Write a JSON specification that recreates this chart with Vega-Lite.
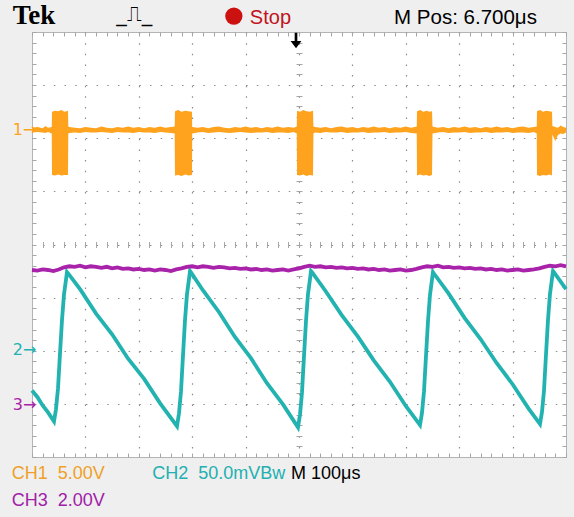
{
  "$schema": "https://vega.github.io/schema/vega-lite/v6.json",
  "width": 534,
  "height": 425,
  "autosize": {"type": "none"},
  "padding": {"left": 32, "top": 32, "right": 8, "bottom": 60},
  "background": "#efefef",
  "config": {
    "view": {"fill": "white", "stroke": "#b4b4b4", "strokeWidth": 1},
    "axis": {"labels": false, "domain": false, "title": null, "tickColor": "#a6a6a6", "tickWidth": 1}
  },
  "datasets": {
    "ch1": [
      {"t": 0, "hi": 2.2, "lo": 2.11}, {"t": 0.1, "hi": 2.21, "lo": 2.12}, {"t": 0.2, "hi": 2.19, "lo": 2.11}, {"t": 0.25, "hi": 2.23, "lo": 2.1}, {"t": 0.3, "hi": 2.2, "lo": 2.12}, {"t": 0.37, "hi": 2.21, "lo": 2.09},
      {"t": 0.375, "hi": 2.5, "lo": 1.31}, {"t": 0.43, "hi": 2.52, "lo": 1.3}, {"t": 0.49, "hi": 2.51, "lo": 1.32}, {"t": 0.55, "hi": 2.53, "lo": 1.3}, {"t": 0.61, "hi": 2.5, "lo": 1.31}, {"t": 0.674, "hi": 2.52, "lo": 1.31},
      {"t": 0.68, "hi": 2.22, "lo": 2.09}, {"t": 0.7, "hi": 2.21, "lo": 2.1}, {"t": 0.8, "hi": 2.2, "lo": 2.11}, {"t": 0.9, "hi": 2.19, "lo": 2.1}, {"t": 1.0, "hi": 2.21, "lo": 2.12}, {"t": 1.1, "hi": 2.2, "lo": 2.11}, {"t": 1.2, "hi": 2.19, "lo": 2.11}, {"t": 1.3, "hi": 2.22, "lo": 2.12}, {"t": 1.4, "hi": 2.2, "lo": 2.11}, {"t": 1.5, "hi": 2.19, "lo": 2.1}, {"t": 1.6, "hi": 2.21, "lo": 2.12}, {"t": 1.7, "hi": 2.2, "lo": 2.11}, {"t": 1.8, "hi": 2.22, "lo": 2.11}, {"t": 1.9, "hi": 2.2, "lo": 2.1}, {"t": 2.0, "hi": 2.21, "lo": 2.12}, {"t": 2.1, "hi": 2.19, "lo": 2.11}, {"t": 2.2, "hi": 2.21, "lo": 2.11}, {"t": 2.3, "hi": 2.2, "lo": 2.1}, {"t": 2.4, "hi": 2.22, "lo": 2.12}, {"t": 2.5, "hi": 2.2, "lo": 2.11}, {"t": 2.6, "hi": 2.21, "lo": 2.1}, {"t": 2.672, "hi": 2.22, "lo": 2.09},
      {"t": 2.678, "hi": 2.51, "lo": 1.3}, {"t": 2.74, "hi": 2.53, "lo": 1.31}, {"t": 2.8, "hi": 2.5, "lo": 1.29}, {"t": 2.87, "hi": 2.52, "lo": 1.32}, {"t": 2.93, "hi": 2.51, "lo": 1.3}, {"t": 2.996, "hi": 2.5, "lo": 1.31},
      {"t": 3.0, "hi": 2.21, "lo": 2.09}, {"t": 3.1, "hi": 2.2, "lo": 2.11}, {"t": 3.2, "hi": 2.21, "lo": 2.12}, {"t": 3.3, "hi": 2.19, "lo": 2.1}, {"t": 3.4, "hi": 2.21, "lo": 2.11}, {"t": 3.5, "hi": 2.22, "lo": 2.12}, {"t": 3.6, "hi": 2.2, "lo": 2.11}, {"t": 3.7, "hi": 2.19, "lo": 2.1}, {"t": 3.8, "hi": 2.21, "lo": 2.11}, {"t": 3.9, "hi": 2.2, "lo": 2.12}, {"t": 4.0, "hi": 2.22, "lo": 2.11}, {"t": 4.1, "hi": 2.2, "lo": 2.1}, {"t": 4.2, "hi": 2.21, "lo": 2.11}, {"t": 4.3, "hi": 2.19, "lo": 2.11}, {"t": 4.4, "hi": 2.21, "lo": 2.12}, {"t": 4.5, "hi": 2.2, "lo": 2.1}, {"t": 4.6, "hi": 2.22, "lo": 2.11}, {"t": 4.7, "hi": 2.2, "lo": 2.11}, {"t": 4.8, "hi": 2.21, "lo": 2.1}, {"t": 4.9, "hi": 2.2, "lo": 2.12}, {"t": 4.958, "hi": 2.22, "lo": 2.09},
      {"t": 4.963, "hi": 2.52, "lo": 1.31}, {"t": 5.02, "hi": 2.5, "lo": 1.3}, {"t": 5.08, "hi": 2.53, "lo": 1.32}, {"t": 5.14, "hi": 2.51, "lo": 1.29}, {"t": 5.2, "hi": 2.5, "lo": 1.31}, {"t": 5.262, "hi": 2.52, "lo": 1.3},
      {"t": 5.27, "hi": 2.22, "lo": 2.09}, {"t": 5.3, "hi": 2.21, "lo": 2.11}, {"t": 5.4, "hi": 2.2, "lo": 2.1}, {"t": 5.5, "hi": 2.21, "lo": 2.12}, {"t": 5.6, "hi": 2.19, "lo": 2.11}, {"t": 5.7, "hi": 2.21, "lo": 2.11}, {"t": 5.8, "hi": 2.22, "lo": 2.12}, {"t": 5.9, "hi": 2.2, "lo": 2.1}, {"t": 6.0, "hi": 2.21, "lo": 2.11}, {"t": 6.1, "hi": 2.19, "lo": 2.11}, {"t": 6.2, "hi": 2.21, "lo": 2.12}, {"t": 6.3, "hi": 2.2, "lo": 2.1}, {"t": 6.4, "hi": 2.22, "lo": 2.11}, {"t": 6.5, "hi": 2.2, "lo": 2.11}, {"t": 6.6, "hi": 2.21, "lo": 2.12}, {"t": 6.7, "hi": 2.19, "lo": 2.1}, {"t": 6.8, "hi": 2.21, "lo": 2.11}, {"t": 6.9, "hi": 2.2, "lo": 2.11}, {"t": 7.0, "hi": 2.22, "lo": 2.12}, {"t": 7.1, "hi": 2.2, "lo": 2.1}, {"t": 7.205, "hi": 2.22, "lo": 2.09},
      {"t": 7.21, "hi": 2.51, "lo": 1.3}, {"t": 7.27, "hi": 2.53, "lo": 1.32}, {"t": 7.33, "hi": 2.5, "lo": 1.3}, {"t": 7.39, "hi": 2.52, "lo": 1.31}, {"t": 7.44, "hi": 2.5, "lo": 1.29}, {"t": 7.491, "hi": 2.51, "lo": 1.31},
      {"t": 7.5, "hi": 2.22, "lo": 2.09}, {"t": 7.6, "hi": 2.2, "lo": 2.11}, {"t": 7.7, "hi": 2.21, "lo": 2.12}, {"t": 7.8, "hi": 2.19, "lo": 2.1}, {"t": 7.9, "hi": 2.21, "lo": 2.11}, {"t": 8.0, "hi": 2.2, "lo": 2.11}, {"t": 8.1, "hi": 2.22, "lo": 2.12}, {"t": 8.2, "hi": 2.2, "lo": 2.1}, {"t": 8.3, "hi": 2.21, "lo": 2.11}, {"t": 8.4, "hi": 2.19, "lo": 2.11}, {"t": 8.5, "hi": 2.21, "lo": 2.12}, {"t": 8.6, "hi": 2.2, "lo": 2.1}, {"t": 8.7, "hi": 2.22, "lo": 2.11}, {"t": 8.8, "hi": 2.2, "lo": 2.11}, {"t": 8.9, "hi": 2.21, "lo": 2.12}, {"t": 9.0, "hi": 2.19, "lo": 2.1}, {"t": 9.1, "hi": 2.21, "lo": 2.11}, {"t": 9.2, "hi": 2.22, "lo": 2.11}, {"t": 9.3, "hi": 2.2, "lo": 2.1}, {"t": 9.4, "hi": 2.21, "lo": 2.12}, {"t": 9.452, "hi": 2.22, "lo": 2.09},
      {"t": 9.457, "hi": 2.51, "lo": 1.31}, {"t": 9.51, "hi": 2.53, "lo": 1.29}, {"t": 9.57, "hi": 2.5, "lo": 1.31}, {"t": 9.63, "hi": 2.52, "lo": 1.3}, {"t": 9.69, "hi": 2.51, "lo": 1.32}, {"t": 9.738, "hi": 2.5, "lo": 1.3},
      {"t": 9.745, "hi": 2.23, "lo": 2.07}, {"t": 9.8, "hi": 2.21, "lo": 1.95}, {"t": 9.85, "hi": 2.2, "lo": 2.06}, {"t": 9.9, "hi": 2.24, "lo": 2.09}, {"t": 9.95, "hi": 2.21, "lo": 2.08}, {"t": 10, "hi": 2.2, "lo": 2.11}
    ],
    "ch2": [
      {"t": 0.0, "v": -2.75}, {"t": 0.1, "v": -2.87}, {"t": 0.2, "v": -3.03}, {"t": 0.3, "v": -3.16}, {"t": 0.412, "v": -3.33},
      {"t": 0.449, "v": -3.1}, {"t": 0.487, "v": -2.71}, {"t": 0.524, "v": -2.06}, {"t": 0.562, "v": -1.42}, {"t": 0.599, "v": -0.94}, {"t": 0.637, "v": -0.66}, {"t": 0.655, "v": -0.52}, {"t": 0.68, "v": -0.55},
      {"t": 0.9, "v": -0.84}, {"t": 1.2, "v": -1.3}, {"t": 1.5, "v": -1.69}, {"t": 1.8, "v": -2.15}, {"t": 2.1, "v": -2.53}, {"t": 2.4, "v": -2.99}, {"t": 2.715, "v": -3.42},
      {"t": 2.752, "v": -3.18}, {"t": 2.79, "v": -2.77}, {"t": 2.827, "v": -2.1}, {"t": 2.865, "v": -1.43}, {"t": 2.902, "v": -0.94}, {"t": 2.94, "v": -0.65}, {"t": 2.959, "v": -0.5}, {"t": 2.98, "v": -0.53},
      {"t": 3.2, "v": -0.86}, {"t": 3.5, "v": -1.27}, {"t": 3.8, "v": -1.74}, {"t": 4.1, "v": -2.14}, {"t": 4.4, "v": -2.61}, {"t": 4.7, "v": -3.01}, {"t": 4.981, "v": -3.44},
      {"t": 5.019, "v": -3.2}, {"t": 5.056, "v": -2.79}, {"t": 5.093, "v": -2.11}, {"t": 5.131, "v": -1.44}, {"t": 5.168, "v": -0.94}, {"t": 5.206, "v": -0.65}, {"t": 5.225, "v": -0.5}, {"t": 5.25, "v": -0.53},
      {"t": 5.5, "v": -0.88}, {"t": 5.8, "v": -1.33}, {"t": 6.1, "v": -1.73}, {"t": 6.4, "v": -2.18}, {"t": 6.7, "v": -2.58}, {"t": 7.0, "v": -3.04}, {"t": 7.266, "v": -3.4},
      {"t": 7.303, "v": -3.17}, {"t": 7.341, "v": -2.76}, {"t": 7.378, "v": -2.1}, {"t": 7.416, "v": -1.44}, {"t": 7.453, "v": -0.95}, {"t": 7.491, "v": -0.66}, {"t": 7.509, "v": -0.52}, {"t": 7.53, "v": -0.55},
      {"t": 7.8, "v": -0.92}, {"t": 8.1, "v": -1.38}, {"t": 8.4, "v": -1.78}, {"t": 8.7, "v": -2.23}, {"t": 9.0, "v": -2.63}, {"t": 9.3, "v": -3.09}, {"t": 9.513, "v": -3.38},
      {"t": 9.551, "v": -3.15}, {"t": 9.588, "v": -2.75}, {"t": 9.625, "v": -2.08}, {"t": 9.663, "v": -1.42}, {"t": 9.7, "v": -0.93}, {"t": 9.738, "v": -0.64}, {"t": 9.757, "v": -0.5}, {"t": 9.78, "v": -0.53},
      {"t": 10.0, "v": -0.84}
    ],
    "ch3": [
      {"t": 0.0, "v": -0.48}, {"t": 0.1, "v": -0.49}, {"t": 0.2, "v": -0.47}, {"t": 0.3, "v": -0.48}, {"t": 0.4, "v": -0.5}, {"t": 0.5, "v": -0.47}, {"t": 0.6, "v": -0.43}, {"t": 0.7, "v": -0.41}, {"t": 0.8, "v": -0.42}, {"t": 0.9, "v": -0.4},
      {"t": 1.0, "v": -0.43}, {"t": 1.1, "v": -0.41}, {"t": 1.2, "v": -0.42}, {"t": 1.3, "v": -0.44}, {"t": 1.4, "v": -0.42}, {"t": 1.5, "v": -0.45}, {"t": 1.6, "v": -0.43}, {"t": 1.7, "v": -0.46}, {"t": 1.8, "v": -0.45}, {"t": 1.9, "v": -0.47},
      {"t": 2.0, "v": -0.46}, {"t": 2.1, "v": -0.48}, {"t": 2.2, "v": -0.47}, {"t": 2.3, "v": -0.49}, {"t": 2.4, "v": -0.47}, {"t": 2.5, "v": -0.48}, {"t": 2.6, "v": -0.5}, {"t": 2.7, "v": -0.47}, {"t": 2.8, "v": -0.45}, {"t": 2.9, "v": -0.42},
      {"t": 3.0, "v": -0.41}, {"t": 3.1, "v": -0.43}, {"t": 3.2, "v": -0.41}, {"t": 3.3, "v": -0.42}, {"t": 3.4, "v": -0.44}, {"t": 3.5, "v": -0.42}, {"t": 3.6, "v": -0.43}, {"t": 3.7, "v": -0.45}, {"t": 3.8, "v": -0.44}, {"t": 3.9, "v": -0.46},
      {"t": 4.0, "v": -0.45}, {"t": 4.1, "v": -0.47}, {"t": 4.2, "v": -0.46}, {"t": 4.3, "v": -0.48}, {"t": 4.4, "v": -0.47}, {"t": 4.5, "v": -0.49}, {"t": 4.6, "v": -0.48}, {"t": 4.7, "v": -0.47}, {"t": 4.8, "v": -0.49}, {"t": 4.9, "v": -0.47},
      {"t": 5.0, "v": -0.45}, {"t": 5.1, "v": -0.42}, {"t": 5.2, "v": -0.4}, {"t": 5.3, "v": -0.42}, {"t": 5.4, "v": -0.41}, {"t": 5.5, "v": -0.43}, {"t": 5.6, "v": -0.42}, {"t": 5.7, "v": -0.44}, {"t": 5.8, "v": -0.43}, {"t": 5.9, "v": -0.45},
      {"t": 6.0, "v": -0.44}, {"t": 6.1, "v": -0.46}, {"t": 6.2, "v": -0.45}, {"t": 6.3, "v": -0.47}, {"t": 6.4, "v": -0.46}, {"t": 6.5, "v": -0.48}, {"t": 6.6, "v": -0.47}, {"t": 6.7, "v": -0.49}, {"t": 6.8, "v": -0.48}, {"t": 6.9, "v": -0.47},
      {"t": 7.0, "v": -0.49}, {"t": 7.1, "v": -0.48}, {"t": 7.2, "v": -0.46}, {"t": 7.3, "v": -0.43}, {"t": 7.4, "v": -0.41}, {"t": 7.5, "v": -0.42}, {"t": 7.6, "v": -0.4}, {"t": 7.7, "v": -0.43}, {"t": 7.8, "v": -0.42}, {"t": 7.9, "v": -0.44},
      {"t": 8.0, "v": -0.43}, {"t": 8.1, "v": -0.45}, {"t": 8.2, "v": -0.44}, {"t": 8.3, "v": -0.46}, {"t": 8.4, "v": -0.45}, {"t": 8.5, "v": -0.47}, {"t": 8.6, "v": -0.46}, {"t": 8.7, "v": -0.48}, {"t": 8.8, "v": -0.47}, {"t": 8.9, "v": -0.49},
      {"t": 9.0, "v": -0.48}, {"t": 9.1, "v": -0.47}, {"t": 9.2, "v": -0.49}, {"t": 9.3, "v": -0.48}, {"t": 9.4, "v": -0.47}, {"t": 9.5, "v": -0.45}, {"t": 9.6, "v": -0.42}, {"t": 9.7, "v": -0.4}, {"t": 9.8, "v": -0.41}, {"t": 9.9, "v": -0.39},
      {"t": 10.0, "v": -0.41}
    ]
  },
  "resolve": {"axis": {"x": "independent", "y": "independent"}},
  "layer": [
    {
      "data": {"name": "ch1"},
      "mark": {"type": "area", "color": "#ffa31f", "opacity": 1},
      "encoding": {
        "x": {"field": "t", "type": "quantitative", "scale": {"domain": [0, 10], "nice": false, "zero": false},
          "axis": {"orient": "bottom", "values": [0,0.2,0.4,0.6,0.8,1,1.2,1.4,1.6,1.8,2,2.2,2.4,2.6,2.8,3,3.2,3.4,3.6,3.8,4,4.2,4.4,4.6,4.8,5,5.2,5.4,5.6,5.8,6,6.2,6.4,6.6,6.8,7,7.2,7.4,7.6,7.8,8,8.2,8.4,8.6,8.8,9,9.2,9.4,9.6,9.8,10],
            "tickSize": -4, "grid": true, "gridDash": [1.5, 9.125], "gridColor": "#8c8c8c", "gridWidth": 1.2,
            "gridOpacity": {"condition": {"test": "abs(datum.value - round(datum.value)) < 0.01 && datum.value > 0.5 && datum.value < 9.5", "value": 1}, "value": 0}}},
        "y": {"field": "hi", "type": "quantitative", "scale": {"domain": [-4, 4], "nice": false, "zero": false},
          "axis": {"orient": "left", "values": [-4,-3.8,-3.6,-3.4,-3.2,-3,-2.8,-2.6,-2.4,-2.2,-2,-1.8,-1.6,-1.4,-1.2,-1,-0.8,-0.6,-0.4,-0.2,0,0.2,0.4,0.6,0.8,1,1.2,1.4,1.6,1.8,2,2.2,2.4,2.6,2.8,3,3.2,3.4,3.6,3.8,4],
            "tickSize": -4, "grid": true, "gridDash": [1.5, 9.18], "gridColor": "#8c8c8c", "gridWidth": 1.2,
            "gridOpacity": {"condition": {"test": "abs(datum.value - round(datum.value)) < 0.01 && abs(datum.value) < 3.5", "value": 1}, "value": 0}}},
        "y2": {"field": "lo"}
      }
    },
    {
      "data": {"name": "ch2"},
      "mark": {"type": "line", "color": "#22b3b0", "strokeWidth": 3.8},
      "encoding": {
        "x": {"field": "t", "type": "quantitative", "scale": {"domain": [0, 10], "nice": false, "zero": false},
          "axis": {"orient": "bottom", "offset": -215.5, "tickSize": 6, "grid": false, "values": [0.2,0.4,0.6,0.8,1,1.2,1.4,1.6,1.8,2,2.2,2.4,2.6,2.8,3,3.2,3.4,3.6,3.8,4,4.2,4.4,4.6,4.8,5,5.2,5.4,5.6,5.8,6,6.2,6.4,6.6,6.8,7,7.2,7.4,7.6,7.8,8,8.2,8.4,8.6,8.8,9,9.2,9.4,9.6,9.8]}},
        "y": {"field": "v", "type": "quantitative", "scale": {"domain": [-4, 4], "nice": false, "zero": false},
          "axis": {"orient": "left", "offset": -270, "tickSize": 6, "grid": false, "values": [-3.8,-3.6,-3.4,-3.2,-3,-2.8,-2.6,-2.4,-2.2,-2,-1.8,-1.6,-1.4,-1.2,-1,-0.8,-0.6,-0.4,-0.2,0,0.2,0.4,0.6,0.8,1,1.2,1.4,1.6,1.8,2,2.2,2.4,2.6,2.8,3,3.2,3.4,3.6,3.8]}}
      }
    },
    {
      "data": {"name": "ch3"},
      "mark": {"type": "line", "color": "#a822aa", "strokeWidth": 3.8},
      "encoding": {
        "x": {"field": "t", "type": "quantitative", "scale": {"domain": [0, 10], "nice": false, "zero": false},
          "axis": {"orient": "top", "tickSize": -4, "grid": false, "values": [0,0.2,0.4,0.6,0.8,1,1.2,1.4,1.6,1.8,2,2.2,2.4,2.6,2.8,3,3.2,3.4,3.6,3.8,4,4.2,4.4,4.6,4.8,5,5.2,5.4,5.6,5.8,6,6.2,6.4,6.6,6.8,7,7.2,7.4,7.6,7.8,8,8.2,8.4,8.6,8.8,9,9.2,9.4,9.6,9.8,10]}},
        "y": {"field": "v", "type": "quantitative", "scale": {"domain": [-4, 4], "nice": false, "zero": false},
          "axis": {"orient": "right", "tickSize": -4, "grid": false, "values": [-4,-3.8,-3.6,-3.4,-3.2,-3,-2.8,-2.6,-2.4,-2.2,-2,-1.8,-1.6,-1.4,-1.2,-1,-0.8,-0.6,-0.4,-0.2,0,0.2,0.4,0.6,0.8,1,1.2,1.4,1.6,1.8,2,2.2,2.4,2.6,2.8,3,3.2,3.4,3.6,3.8,4]}}
      }
    },
    {
      "data": {"values": [{}]},
      "mark": {"type": "text", "text": "Tek", "font": "Liberation Serif", "fontWeight": "bold", "fontSize": 27, "align": "left", "baseline": "alphabetic", "color": "#000000"},
      "encoding": {"x": {"datum": -0.36, "type": "quantitative", "axis": null}, "y": {"datum": 4.15, "type": "quantitative", "axis": null}}
    },
    {
      "data": {"values": [{}]},
      "mark": {"type": "text", "text": "_⎍_", "font": "DejaVu Sans", "fontSize": 21, "align": "left", "baseline": "alphabetic", "color": "#000000"},
      "encoding": {"x": {"datum": 1.58, "type": "quantitative", "axis": null}, "y": {"datum": 4.21, "type": "quantitative", "axis": null}}
    },
    {
      "data": {"values": [{}]},
      "mark": {"type": "point", "shape": "circle", "filled": true, "size": 300, "color": "#cc1111", "opacity": 1},
      "encoding": {"x": {"datum": 3.78, "type": "quantitative", "axis": null}, "y": {"datum": 4.3, "type": "quantitative", "axis": null}}
    },
    {
      "data": {"values": [{}]},
      "mark": {"type": "text", "text": "Stop", "font": "Liberation Sans", "fontSize": 20, "align": "left", "baseline": "alphabetic", "color": "#c0141c"},
      "encoding": {"x": {"datum": 4.08, "type": "quantitative", "axis": null}, "y": {"datum": 4.16, "type": "quantitative", "axis": null}}
    },
    {
      "data": {"values": [{}]},
      "mark": {"type": "text", "text": "M Pos: 6.700μs", "font": "Liberation Sans", "fontSize": 20.5, "align": "left", "baseline": "alphabetic", "color": "#000000"},
      "encoding": {"x": {"datum": 6.78, "type": "quantitative", "axis": null}, "y": {"datum": 4.16, "type": "quantitative", "axis": null}}
    },
    {
      "data": {"values": [{}]},
      "mark": {"type": "point", "shape": "M-0.16,-1L0.16,-1L0.16,0L0.65,0L0,0.85L-0.65,0L-0.16,0Z", "filled": true, "size": 280, "color": "#000000", "opacity": 1},
      "encoding": {"x": {"datum": 4.944, "type": "quantitative", "axis": null}, "y": {"datum": 3.83, "type": "quantitative", "axis": null}}
    },
    {
      "data": {"values": [{}]},
      "mark": {"type": "text", "text": "1→", "font": "DejaVu Sans", "fontSize": 16, "align": "left", "baseline": "middle", "color": "#ffa31f"},
      "encoding": {"x": {"datum": -0.36, "type": "quantitative", "axis": null}, "y": {"datum": 2.155, "type": "quantitative", "axis": null}}
    },
    {
      "data": {"values": [{}]},
      "mark": {"type": "text", "text": "2→", "font": "DejaVu Sans", "fontSize": 16, "align": "left", "baseline": "middle", "color": "#22b3b0"},
      "encoding": {"x": {"datum": -0.36, "type": "quantitative", "axis": null}, "y": {"datum": -1.99, "type": "quantitative", "axis": null}}
    },
    {
      "data": {"values": [{}]},
      "mark": {"type": "text", "text": "3→", "font": "DejaVu Sans", "fontSize": 16, "align": "left", "baseline": "middle", "color": "#a822aa"},
      "encoding": {"x": {"datum": -0.36, "type": "quantitative", "axis": null}, "y": {"datum": -3.02, "type": "quantitative", "axis": null}}
    },
    {
      "data": {"values": [{}]},
      "mark": {"type": "text", "text": "CH1\u00a0\u00a05.00V", "font": "Liberation Sans", "fontSize": 18, "align": "left", "baseline": "alphabetic", "color": "#f0a028"},
      "encoding": {"x": {"datum": -0.38, "type": "quantitative", "axis": null}, "y": {"datum": -4.41, "type": "quantitative", "axis": null}}
    },
    {
      "data": {"values": [{}]},
      "mark": {"type": "text", "text": "CH2\u00a0\u00a050.0mVBw", "font": "Liberation Sans", "fontSize": 18, "align": "left", "baseline": "alphabetic", "color": "#22b0b0"},
      "encoding": {"x": {"datum": 2.25, "type": "quantitative", "axis": null}, "y": {"datum": -4.41, "type": "quantitative", "axis": null}}
    },
    {
      "data": {"values": [{}]},
      "mark": {"type": "text", "text": "M 100μs", "font": "Liberation Sans", "fontSize": 18, "align": "left", "baseline": "alphabetic", "color": "#000000"},
      "encoding": {"x": {"datum": 4.85, "type": "quantitative", "axis": null}, "y": {"datum": -4.41, "type": "quantitative", "axis": null}}
    },
    {
      "data": {"values": [{}]},
      "mark": {"type": "text", "text": "CH3\u00a0\u00a02.00V", "font": "Liberation Sans", "fontSize": 18, "align": "left", "baseline": "alphabetic", "color": "#a020a8"},
      "encoding": {"x": {"datum": -0.38, "type": "quantitative", "axis": null}, "y": {"datum": -4.93, "type": "quantitative", "axis": null}}
    }
  ]
}
